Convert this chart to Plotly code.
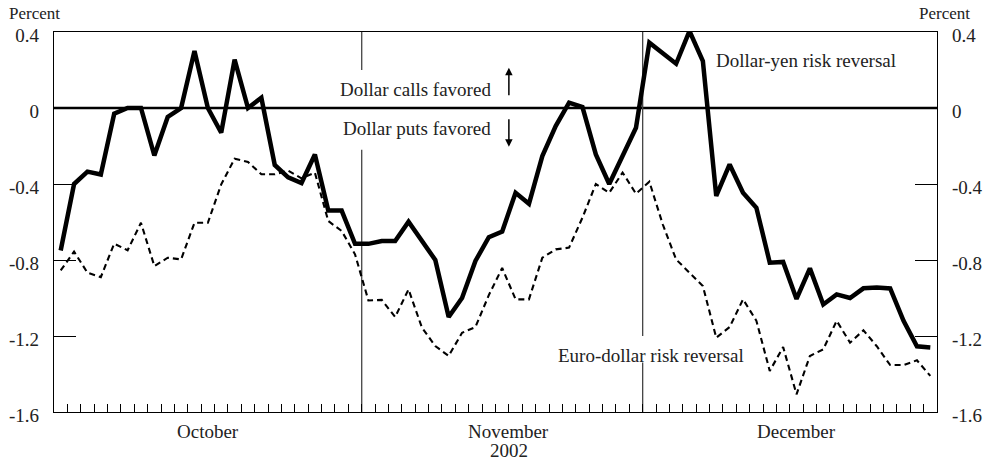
import numpy as np
import plotly.graph_objects as go

# Business days Oct 1 - Dec 31, 2002 (23 + 21 + 22 = 66 days)
months = ["October", "November", "December"]
days_per_month = [23, 21, 22]
year_label = "2002"

dollar_yen = [
    -0.75, -0.40, -0.335, -0.35, -0.03, 0.0, 0.0, -0.25, -0.047, 0.0,
    0.30, 0.0, -0.13, 0.255, 0.0, 0.054, -0.30, -0.365, -0.395, -0.245,
    -0.54, -0.54, -0.715, -0.715, -0.70, -0.70, -0.598, -0.70, -0.80, -1.10,
    -1.00, -0.805, -0.68, -0.65, -0.446, -0.504, -0.253, -0.095, 0.028, 0.005,
    -0.244, -0.40, -0.253, -0.104, 0.344, 0.29, 0.233, 0.405, 0.247, -0.463,
    -0.297, -0.446, -0.525, -0.814, -0.81, -1.005, -0.844, -1.034, -0.981, -1.0,
    -0.949, -0.945, -0.95, -1.12, -1.254, -1.26,
]

euro_dollar = [
    -0.855, -0.756, -0.867, -0.89, -0.714, -0.749, -0.604, -0.832, -0.788, -0.797,
    -0.604, -0.604, -0.402, -0.267, -0.284, -0.349, -0.349, -0.33, -0.37, -0.34,
    -0.595, -0.647, -0.77, -1.013, -1.01, -1.10, -0.955, -1.156, -1.253, -1.305,
    -1.183, -1.153, -0.985, -0.842, -1.007, -1.007, -0.788, -0.744, -0.735, -0.577,
    -0.40, -0.446, -0.34, -0.451, -0.388, -0.612, -0.797, -0.867, -0.937, -1.209,
    -1.153, -1.007, -1.12, -1.384, -1.258, -1.507, -1.305, -1.27, -1.12, -1.235,
    -1.17, -1.254, -1.353, -1.353, -1.328, -1.41,
]

y_ticks = [0.4, 0, -0.4, -0.8, -1.2, -1.6]
y_tick_text = ["0.4", "0", "-0.4", "-0.8", "-1.2", "-1.6"]

n_days = sum(days_per_month)
x = np.arange(n_days) + 0.5
boundaries = np.cumsum(days_per_month)[:-1]  # month separators

FONT = "Liberation Serif"
TXT = "#222222"

fig = go.Figure()
fig.add_trace(go.Scatter(
    x=x, y=euro_dollar, mode="lines", yaxis="y2",
    line=dict(color="black", width=2.1, dash="6px,4px"),
    hoverinfo="skip", showlegend=False,
))
fig.add_trace(go.Scatter(
    x=x, y=dollar_yen, mode="lines", yaxis="y",
    line=dict(color="black", width=4.5),
    hoverinfo="skip", showlegend=False,
))

# zero line
fig.add_shape(type="line", xref="x", yref="y", x0=0, x1=n_days, y0=0, y1=0,
              line=dict(color="black", width=2.5), layer="below")

# month separator lines with gaps around text
gaps = {boundaries[0]: (0.20, -0.22), boundaries[1]: (-1.20, -1.34)}
for b in boundaries:
    top_gap, bot_gap = gaps[b]
    fig.add_shape(type="line", xref="x", yref="y", x0=b, x1=b, y0=0.4, y1=top_gap,
                  line=dict(color="#444444", width=1.3), layer="below")
    fig.add_shape(type="line", xref="x", yref="y", x0=b, x1=b, y0=bot_gap, y1=-1.6,
                  line=dict(color="#444444", width=1.3), layer="below")

ann = []
# month labels
label_pos = [11.5, 34.0, 55.5]
for m, xp in zip(months, label_pos):
    ann.append(dict(x=xp, y=0, xref="x", yref="paper", yanchor="top", yshift=-7,
                    text=m, showarrow=False, font=dict(family=FONT, size=19, color=TXT)))
ann.append(dict(x=label_pos[1], y=0, xref="x", yref="paper", yanchor="top", yshift=-26,
                text=year_label, showarrow=False, font=dict(family=FONT, size=19, color=TXT)))

# Percent labels
ann.append(dict(x=0, y=1, xref="paper", yref="paper", xanchor="left", yanchor="bottom",
                xshift=-47, yshift=7, text="Percent", showarrow=False,
                font=dict(family=FONT, size=17, color=TXT)))
ann.append(dict(x=1, y=1, xref="paper", yref="paper", xanchor="left", yanchor="bottom",
                xshift=-20, yshift=7, text="Percent", showarrow=False,
                font=dict(family=FONT, size=17, color=TXT)))

# in-plot text
ann.append(dict(x=32.8, y=0.096, xref="x", yref="y", xanchor="right", text="Dollar calls favored",
                showarrow=False, font=dict(family=FONT, size=19, color=TXT)))
ann.append(dict(x=32.8, y=-0.109, xref="x", yref="y", xanchor="right", text="Dollar puts favored",
                showarrow=False, font=dict(family=FONT, size=19, color=TXT)))
ann.append(dict(x=49.3, y=0.249, xref="x", yref="y", xanchor="left", text="Dollar-yen risk reversal",
                showarrow=False, font=dict(family=FONT, size=19, color=TXT)))
ann.append(dict(x=37.5, y=-1.304, xref="x", yref="y", xanchor="left", text="Euro-dollar risk reversal",
                showarrow=False, font=dict(family=FONT, size=19, color=TXT)))

# arrows
ann.append(dict(x=34.0, y=0.212, xref="x", yref="y", ax=0, ay=29, text="", showarrow=True,
                arrowhead=2, arrowsize=1, arrowwidth=1.5, arrowcolor="black"))
ann.append(dict(x=34.0, y=-0.204, xref="x", yref="y", ax=0, ay=-29, text="", showarrow=True,
                arrowhead=2, arrowsize=1, arrowwidth=1.5, arrowcolor="black"))

axis_font = dict(family=FONT, size=19, color=TXT)
yaxis_common = dict(
    range=[-1.6, 0.4], tickvals=y_ticks, ticktext=y_tick_text,
    ticks="inside", ticklen=22, tickwidth=1.2, tickcolor="black",
    showline=True, linecolor="black", linewidth=1.2,
    showgrid=False, zeroline=False, tickfont=axis_font, automargin=False,
    ticklabelstandoff=10, ticklabelshift=3, fixedrange=True,
)

fig.update_layout(
    width=985, height=463,
    margin=dict(l=54, r=48, t=32, b=51, autoexpand=False),
    paper_bgcolor="white", plot_bgcolor="white",
    xaxis=dict(
        range=[0, n_days], tickvals=list(range(1, n_days)), showticklabels=False,
        ticks="inside", ticklen=8, tickwidth=1.2, tickcolor="black",
        showline=True, linecolor="black", linewidth=1.2, mirror=True,
        showgrid=False, zeroline=False, fixedrange=True, automargin=False,
    ),
    yaxis=dict(side="left", **yaxis_common),
    yaxis2=dict(side="right", overlaying="y", **yaxis_common),
    annotations=ann,
    showlegend=False,
)

# remove the default 8px page margin so the figure fills the window exactly
fig.write_html(
    "out.html",
    config={"displayModeBar": False},
    post_script="document.body.style.margin='0';document.body.style.overflow='hidden';",
)
